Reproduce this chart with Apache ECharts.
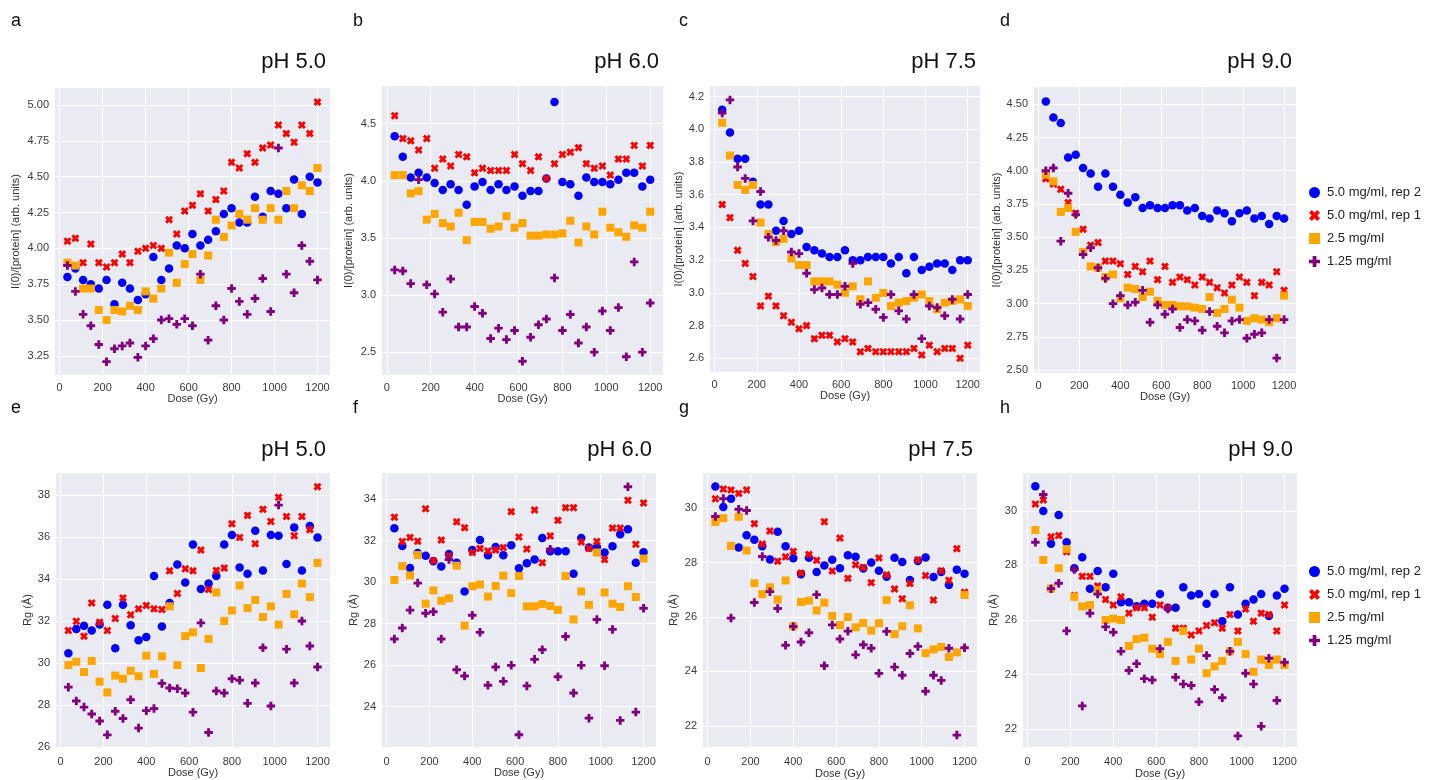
<!DOCTYPE html>
<html>
<head>
<meta charset="utf-8">
<script src="https://cdn.jsdelivr.net/npm/echarts@6/dist/echarts.min.js"></script>
<style>
html,body{margin:0;padding:0;background:#fff;}
#chart{width:1434px;height:780px;}
</style>
</head>
<body>
<div id="chart"></div>
<script>
// ---------------- DATA ----------------
const doses = [36, 73, 109, 145, 182, 218, 255, 291, 327, 364, 400, 436, 473, 509, 545, 582, 618, 655, 691, 727, 764, 800, 836, 873, 909, 945, 982, 1018, 1055, 1091, 1127, 1164, 1200];
const seriesNames = ['5.0 mg/ml, rep 2', '5.0 mg/ml, rep 1', '2.5 mg/ml', '1.25 mg/ml'];
const panelTitles = ['pH 5.0', 'pH 6.0', 'pH 7.5', 'pH 9.0', 'pH 5.0', 'pH 6.0', 'pH 7.5', 'pH 9.0'];
const panelLetters = ['a', 'b', 'c', 'd', 'e', 'f', 'g', 'h'];
const xTicks = [0, 200, 400, 600, 800, 1000, 1200];
const yTicksI0_50 = [3.25, 3.50, 3.75, 4.00, 4.25, 4.50, 4.75, 5.00];
const yTicksI0_60 = [2.5, 3.0, 3.5, 4.0, 4.5];
const yTicksI0_75 = [2.6, 2.8, 3.0, 3.2, 3.4, 3.6, 3.8, 4.0, 4.2];
const yTicksI0_90 = [2.50, 2.75, 3.00, 3.25, 3.50, 3.75, 4.00, 4.25, 4.50];
const yTicksRg_50 = [26, 28, 30, 32, 34, 36, 38];
const yTicksRg_60 = [24, 26, 28, 30, 32, 34];
const yTicksRg_75 = [22, 24, 26, 28, 30];
const yTicksRg_90 = [22, 24, 26, 28, 30];

// I(0)/[protein], pH 5.0
const i0_ph50_rep2 = [3.80,3.86,3.78,3.75,3.72,3.78,3.61,3.76,3.72,3.64,3.68,3.94,3.78,3.86,4.02,4.00,4.10,4.02,4.06,4.12,4.24,4.28,4.18,4.18,4.36,4.22,4.40,4.38,4.28,4.48,4.24,4.50,4.46];
const i0_ph50_rep1 = [4.05,4.07,3.90,4.03,3.90,3.87,3.90,3.96,3.90,3.98,4.00,4.02,4.00,4.20,4.10,4.26,4.30,4.38,4.26,4.34,4.40,4.60,4.56,4.66,4.60,4.70,4.72,4.86,4.80,4.74,4.86,4.80,5.02];
const i0_ph50_c25 = [3.90,3.88,3.72,3.72,3.57,3.50,3.57,3.56,3.60,3.57,3.70,3.65,3.72,3.97,3.76,3.89,3.96,3.78,3.95,4.20,4.08,4.16,4.24,4.20,4.28,4.20,4.28,4.20,4.40,4.28,4.44,4.40,4.56];
const i0_ph50_c125 = [3.88,3.70,3.54,3.46,3.33,3.21,3.30,3.32,3.34,3.24,3.32,3.37,3.50,3.51,3.47,3.51,3.46,3.82,3.36,3.60,3.50,3.72,3.63,3.54,3.65,3.79,3.56,4.70,3.82,3.69,4.02,3.91,3.78];
// I(0)/[protein], pH 6.0
const i0_ph60_rep2 = [4.39,4.21,4.03,4.07,4.03,3.98,3.92,3.97,3.92,3.79,3.95,3.99,3.92,3.97,3.92,3.95,3.87,3.91,3.91,4.02,4.69,3.99,3.97,3.87,4.03,3.99,3.99,3.97,4.01,4.07,4.07,3.95,4.01];
const i0_ph60_rep1 = [4.57,4.37,4.35,4.27,4.37,4.11,4.19,4.13,4.23,4.21,4.07,4.11,4.09,4.09,4.09,4.23,4.15,4.09,4.21,4.02,4.15,4.23,4.25,4.29,4.15,4.11,4.13,4.05,4.19,4.19,4.31,4.13,4.31];
const i0_ph60_c25 = [4.05,4.05,3.89,3.91,3.66,3.71,3.63,3.60,3.72,3.48,3.64,3.64,3.58,3.60,3.69,3.59,3.63,3.52,3.52,3.53,3.53,3.54,3.65,3.46,3.60,3.53,3.73,3.59,3.55,3.51,3.61,3.59,3.73];
const i0_ph60_c125 = [3.22,3.21,3.10,4.01,3.09,3.01,2.85,3.14,2.72,2.72,2.90,2.84,2.62,2.71,2.61,2.69,2.42,2.63,2.74,2.79,3.15,2.69,2.83,2.58,2.72,2.50,2.86,2.69,2.89,2.46,3.29,2.50,2.93];
// I(0)/[protein], pH 7.5
const i0_ph75_rep2 = [4.12,3.98,3.82,3.82,3.68,3.54,3.54,3.38,3.44,3.36,3.38,3.28,3.26,3.24,3.22,3.22,3.26,3.20,3.20,3.22,3.22,3.22,3.18,3.22,3.12,3.22,3.14,3.16,3.18,3.18,3.14,3.20,3.20];
const i0_ph75_rep1 = [3.54,3.46,3.26,3.18,3.10,2.92,2.98,2.92,2.86,2.82,2.78,2.80,2.72,2.74,2.74,2.70,2.72,2.70,2.64,2.66,2.64,2.64,2.64,2.64,2.64,2.66,2.62,2.68,2.64,2.66,2.66,2.60,2.68];
const i0_ph75_c25 = [4.04,3.84,3.66,3.63,3.66,3.43,3.36,3.31,3.33,3.21,3.17,3.17,3.07,3.07,3.07,3.05,3.00,3.04,2.96,3.07,2.97,3.00,2.92,2.94,2.95,2.97,2.99,2.95,2.90,2.94,2.95,2.96,2.92];
const i0_ph75_c125 = [4.10,4.18,3.77,3.70,3.44,3.62,3.34,3.32,3.38,3.25,3.24,3.12,3.02,3.03,2.99,2.99,3.04,3.18,2.93,2.94,2.90,2.85,2.99,2.89,2.84,2.99,2.72,2.92,2.91,2.86,2.96,2.84,2.99];
// I(0)/[protein], pH 9.0
const i0_ph90_rep2 = [4.52,4.40,4.36,4.10,4.12,4.02,3.98,3.88,3.98,3.88,3.82,3.76,3.80,3.72,3.74,3.72,3.72,3.74,3.74,3.70,3.72,3.66,3.64,3.70,3.68,3.62,3.68,3.70,3.64,3.66,3.60,3.66,3.64];
const i0_ph90_rep1 = [3.94,3.90,3.86,3.76,3.68,3.56,3.44,3.46,3.32,3.32,3.30,3.22,3.28,3.24,3.32,3.18,3.28,3.16,3.20,3.18,3.14,3.20,3.16,3.12,3.08,3.14,3.20,3.16,3.06,3.16,3.14,3.24,3.10];
const i0_ph90_c25 = [3.97,3.92,3.69,3.72,3.54,3.39,3.28,3.27,3.20,3.22,3.04,3.12,3.11,3.05,3.09,3.02,2.99,2.99,2.98,2.98,2.97,2.96,3.05,2.93,2.96,3.03,2.97,2.87,2.89,2.88,2.86,2.89,3.06];
const i0_ph90_c125 = [4.00,4.02,3.47,3.83,3.67,3.37,3.42,3.27,3.19,3.00,3.06,2.99,3.01,3.10,2.86,2.99,2.92,2.96,2.82,2.88,2.87,2.80,2.94,2.83,2.78,2.87,2.88,2.74,2.77,2.78,2.88,2.59,2.88];
// Rg, pH 5.0
const rg_ph50_rep2 = [30.46,31.62,31.77,31.55,31.83,32.77,30.70,32.77,31.80,31.08,31.24,34.15,31.74,32.86,34.69,33.84,35.65,33.53,33.79,34.14,35.65,36.10,34.55,34.25,36.30,34.41,36.10,36.06,34.72,36.46,34.41,36.52,35.98];
const rg_ph50_rep1 = [31.55,31.99,31.28,32.86,31.94,31.55,32.12,33.10,32.30,32.58,32.74,32.58,32.55,34.39,33.31,34.49,34.39,35.38,33.50,34.41,34.52,36.63,35.98,37.03,35.68,37.32,36.74,37.89,36.98,36.06,36.98,36.35,38.40];
const rg_ph50_c25 = [29.90,30.06,29.57,30.10,29.11,28.60,29.40,29.25,29.63,29.37,30.35,29.48,30.32,32.70,29.90,31.28,31.46,29.76,31.15,33.36,32.00,32.50,33.69,32.61,33.00,32.19,32.70,31.83,33.29,32.32,33.79,33.14,34.77];
const rg_ph50_c125 = [28.85,28.19,27.90,27.57,27.24,26.58,27.70,27.36,28.25,26.90,27.73,27.83,29.03,28.81,28.78,28.57,27.66,31.91,26.69,28.67,28.57,29.25,29.18,28.08,29.05,30.73,27.95,37.52,30.66,29.05,32.00,30.81,29.81];
// Rg, pH 6.0
const rg_ph60_rep2 = [32.59,31.74,30.68,31.40,31.27,31.00,30.75,31.35,30.93,29.55,31.54,32.03,31.29,31.69,31.29,31.77,30.66,30.90,31.09,32.12,31.48,31.48,31.48,30.40,32.12,31.66,31.69,31.42,31.72,32.30,32.54,30.93,31.43];
const rg_ph60_rep1 = [33.12,31.95,32.15,31.96,33.53,31.03,32.02,31.25,32.90,32.62,31.42,31.62,31.50,31.54,31.66,33.39,32.17,31.59,33.47,30.93,32.22,32.97,33.58,33.58,31.93,31.62,31.95,31.08,32.60,32.60,33.94,31.82,33.81];
const rg_ph60_c25 = [30.10,30.77,30.32,31.30,28.96,29.60,29.10,29.22,30.79,27.90,29.80,29.88,29.30,29.81,30.31,29.47,30.29,28.83,28.83,28.94,28.85,28.66,30.29,28.20,29.55,28.90,31.42,29.50,28.96,28.80,29.80,29.28,31.13];
const rg_ph60_c125 = [27.26,27.79,28.65,29.95,28.50,28.57,27.26,31.08,25.78,25.48,28.40,27.58,25.03,25.91,25.22,25.99,22.65,25.00,26.28,26.74,31.58,25.44,27.38,24.66,25.99,23.45,28.20,25.97,27.72,23.34,34.59,23.74,28.74];
// Rg, pH 7.5
const rg_ph75_rep2 = [30.79,30.04,30.34,28.55,29.00,28.84,28.60,28.11,29.13,28.60,28.16,27.57,28.18,27.65,27.89,28.10,27.79,28.27,28.21,27.78,28.00,27.70,27.48,28.18,28.02,27.36,28.06,28.19,27.47,27.65,27.18,27.74,27.59];
const rg_ph75_rep1 = [30.34,30.70,30.67,30.54,30.67,29.43,28.68,29.16,28.05,28.21,28.41,27.62,28.30,28.08,29.50,27.69,28.90,27.42,27.92,27.82,27.26,28.17,27.55,27.03,26.67,27.23,28.10,27.52,26.62,27.70,27.35,28.51,26.91];
const rg_ph75_c25 = [29.49,29.63,28.61,29.68,28.44,27.24,26.84,27.09,26.64,27.34,25.66,26.55,26.60,26.24,26.53,26.04,25.70,26.00,25.62,25.78,25.50,25.77,26.62,25.37,25.66,26.43,25.58,24.67,24.81,24.90,24.53,24.70,26.81];
const rg_ph75_c125 = [29.69,30.35,25.96,29.96,29.91,26.53,28.22,26.93,26.31,24.96,25.65,25.08,25.42,26.82,24.21,25.71,25.19,25.48,24.61,24.98,24.85,23.93,25.47,24.16,23.86,24.66,24.92,23.27,23.86,23.67,24.85,21.66,24.87];
// Rg, pH 9.0
const rg_ph90_rep2 = [30.90,30.00,28.80,29.85,28.85,27.90,28.30,27.15,27.80,27.20,27.70,26.65,26.65,26.50,26.60,26.60,26.95,26.45,26.45,27.20,26.90,26.95,26.60,26.95,25.95,27.20,26.20,26.60,26.75,26.95,26.15,26.90,27.15];
const rg_ph90_rep1 = [30.25,30.40,29.05,29.10,28.50,26.90,27.60,27.60,27.25,26.75,26.55,26.85,26.25,26.45,26.45,26.10,26.55,26.45,25.70,25.70,25.45,25.60,25.80,25.90,25.70,26.20,25.60,26.40,25.95,26.25,26.20,25.60,26.55];
const rg_ph90_c25 = [29.30,28.20,27.15,27.90,28.60,26.85,26.50,26.55,27.10,26.00,26.05,26.00,25.05,25.30,25.35,24.95,24.75,25.20,24.50,25.60,24.55,24.95,24.05,24.30,24.50,24.85,25.20,24.75,24.10,24.55,24.35,24.55,24.35];
const rg_ph90_c125 = [28.85,30.60,27.15,27.35,25.60,27.85,22.85,26.25,26.95,25.75,25.55,24.85,24.15,24.40,23.85,23.80,24.95,26.40,23.90,23.65,23.60,23.00,24.70,23.45,23.15,24.85,21.75,24.05,23.65,22.10,24.60,23.05,24.45];

// ---------------- STYLE / LAYOUT ----------------
const FONT = 'Liberation Sans, Arial, Helvetica, sans-serif';
const colors = ['#0000FF', '#FF0000', '#FFA500', '#800080'];
const xPath = 'path://M0,2.6L2.6,0L5,2.4L7.4,0L10,2.6L7.6,5L10,7.4L7.4,10L5,7.6L2.6,10L0,7.4L2.4,5Z';
const plusPath = 'path://M3.3,0H6.7V3.3H10V6.7H6.7V10H3.3V6.7H0V3.3H3.3Z';
const symbols = ['circle', xPath, 'rect', plusPath];
const symbolSizes = [8.5, 8, 8, 8.5];

const panelData = [
  [i0_ph50_rep2, i0_ph50_rep1, i0_ph50_c25, i0_ph50_c125],
  [i0_ph60_rep2, i0_ph60_rep1, i0_ph60_c25, i0_ph60_c125],
  [i0_ph75_rep2, i0_ph75_rep1, i0_ph75_c25, i0_ph75_c125],
  [i0_ph90_rep2, i0_ph90_rep1, i0_ph90_c25, i0_ph90_c125],
  [rg_ph50_rep2, rg_ph50_rep1, rg_ph50_c25, rg_ph50_c125],
  [rg_ph60_rep2, rg_ph60_rep1, rg_ph60_c25, rg_ph60_c125],
  [rg_ph75_rep2, rg_ph75_rep1, rg_ph75_c25, rg_ph75_c125],
  [rg_ph90_rep2, rg_ph90_rep1, rg_ph90_c25, rg_ph90_c125]
];
const yTickSets = [yTicksI0_50, yTicksI0_60, yTicksI0_75, yTicksI0_90, yTicksRg_50, yTicksRg_60, yTicksRg_75, yTicksRg_90];
const yDecimals = [2, 1, 1, 2, 0, 0, 0, 0];
const yNames = ['I(0)/[protein] (arb. units)', 'I(0)/[protein] (arb. units)', 'I(0)/[protein] (arb. units)', 'I(0)/[protein] (arb. units)', 'Rg (Å)', 'Rg (Å)', 'Rg (Å)', 'Rg (Å)'];

// layout: [left, top, width, height, ymin, ymax, yNameGap]
const layout = [
  [55, 88, 275, 287, 3.117, 5.118, 34],
  [382, 86, 281, 289, 2.30, 4.83, 28],
  [710, 86, 270, 286, 2.516, 4.265, 26],
  [1034, 87, 262, 286, 2.478, 4.63, 30],
  [56, 473, 274, 274, 26.0, 39.05, 22],
  [382, 473, 274, 274, 22.06, 35.25, 23],
  [703, 473, 274, 275, 21.22, 31.29, 24],
  [1023, 473, 274, 275, 21.34, 31.39, 24]
];
const XMIN = -21.8, XMAX = 1258.2;
const letterX = [11, 353, 679, 1000, 11, 353, 679, 1000];

const grids = [], xAxes = [], yAxes = [], series = [], titles = [];
layout.forEach((L, p) => {
  const bottomRow = p >= 4;
  grids.push({left: L[0], top: L[1], width: L[2], height: L[3], show: true, backgroundColor: '#EAEAF2', borderWidth: 0, containLabel: false});
  xAxes.push({
    type: 'value', gridIndex: p, min: XMIN, max: XMAX,
    name: 'Dose (Gy)', nameLocation: 'middle', nameGap: bottomRow ? 19 : 17,
    nameTextStyle: {fontFamily: FONT, fontSize: 11, color: '#333'},
    axisLine: {show: false},
    axisTick: {show: false, customValues: xTicks},
    axisLabel: {customValues: xTicks, fontFamily: FONT, fontSize: 11, color: '#3a3a3a', margin: bottomRow ? 9 : 7,
      formatter: v => String(Math.round(v))},
    splitLine: {show: true, lineStyle: {color: '#FFFFFF', width: 1}}
  });
  const dec = yDecimals[p];
  yAxes.push({
    type: 'value', gridIndex: p, min: L[4], max: L[5],
    name: yNames[p], nameLocation: 'middle', nameRotate: 90, nameGap: L[6],
    nameTextStyle: {fontFamily: FONT, fontSize: 11, color: '#333'},
    axisLine: {show: false},
    axisTick: {show: false, customValues: yTickSets[p]},
    axisLabel: {customValues: yTickSets[p], fontFamily: FONT, fontSize: 11, color: '#3a3a3a', margin: 6,
      formatter: v => Number(v).toFixed(dec)},
    splitLine: {show: true, lineStyle: {color: '#FFFFFF', width: 1}}
  });
  panelData[p].forEach((vals, s) => {
    series.push({
      type: 'scatter', name: seriesNames[s], xAxisIndex: p, yAxisIndex: p,
      symbol: symbols[s], symbolSize: symbolSizes[s],
      itemStyle: {color: colors[s], opacity: 1},
      emphasis: {disabled: true},
      data: doses.map((d, i) => [d, vals[i]])
    });
  });
  titles.push({
    text: panelTitles[p], right: 1434 - (L[0] + L[2]) + 4, top: bottomRow ? 439 : 51, padding: 0,
    textStyle: {fontFamily: FONT, fontSize: 22, fontWeight: 'normal', color: '#111'}
  });
  titles.push({
    text: panelLetters[p], left: letterX[p], top: bottomRow ? 399 : 12, padding: 0,
    textStyle: {fontFamily: FONT, fontSize: 18, fontWeight: 'normal', color: '#111'}
  });
});

const legendCommon = {
  orient: 'vertical', left: 1309, itemWidth: 11, itemHeight: 11, itemGap: 10,
  data: seriesNames, padding: 0, selectedMode: false,
  textStyle: {fontFamily: FONT, fontSize: 13, color: '#222', padding: [0, 0, 0, 2]}
};

const chart = echarts.init(document.getElementById('chart'), null, {renderer: 'canvas'});
chart.setOption({
  animation: false,
  backgroundColor: '#ffffff',
  title: titles,
  legend: [Object.assign({top: 186}, legendCommon), Object.assign({top: 565}, legendCommon)],
  grid: grids,
  xAxis: xAxes,
  yAxis: yAxes,
  series: series
});
</script>
</body>
</html>
